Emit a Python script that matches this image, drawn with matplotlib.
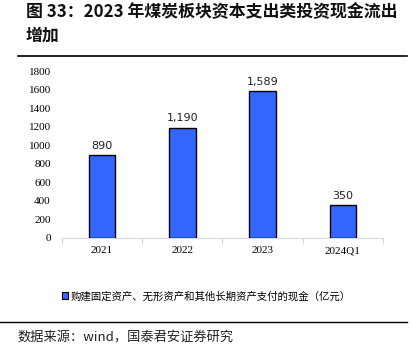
import matplotlib

matplotlib.use("Agg")
import matplotlib.pyplot as plt
from matplotlib.lines import Line2D
from matplotlib.patches import Patch

plt.rcParams["font.family"] = ["Noto Sans CJK SC", "DejaVu Sans"]

# data
categories = ["2021", "2022", "2023", "2024Q1"]
values = [890, 1190, 1589, 350]
yticks = [0, 200, 400, 600, 800, 1000, 1200, 1400, 1600, 1800]
title = "图 33：2023 年煤炭板块资本支出类投资现金流出\n增加"
legend_label = "购建固定资产、无形资产和其他长期资产支付的现金（亿元）"
source = "数据来源：wind，国泰君安证券研究"

BAR = "#3366ff"
SERIF = ["Liberation Serif", "Noto Sans CJK SC"]

fig = plt.figure(figsize=(4.13, 3.54), dpi=100)
fig.patch.set_facecolor("white")

fig.text(0.062, 0.99, title, fontsize=12.2, fontweight="bold", va="top",
         ha="left", linespacing=1.4, color="#111111")
fig.add_artist(Line2D([0.044, 0.985], [0.842, 0.842], color="black", lw=1.2))
fig.add_artist(Line2D([0.0, 0.985], [0.09, 0.09], color="black", lw=1.0))
fig.text(0.042, 0.045, source, fontsize=9.5, va="center", ha="left", color="#222222")

ax = fig.add_axes([0.150, 0.328, 0.777, 0.471])
pos = list(range(len(categories)))
ax.bar(pos, values, width=0.33, color=BAR, edgecolor="black", linewidth=1.0, zorder=3)
for i, v in zip(pos, values):
    ax.text(i, v + 45, f"{v:,}", ha="center", va="bottom", fontsize=8,
            family="DejaVu Sans", color="#222222")

ax.set_xlim(-0.5, len(categories) - 0.5)
ax.set_ylim(0, 1800)
ax.set_yticks(yticks)
ax.set_yticklabels([str(t) for t in yticks], family=SERIF, fontsize=8)
ax.set_xticks(pos)
ax.set_xticklabels(categories, family=SERIF, fontsize=8)
ax.set_xticks([p - 0.5 for p in pos] + [len(pos) - 0.5], minor=True)
ax.tick_params(axis="x", which="major", length=0, pad=6)
ax.tick_params(axis="x", which="minor", length=4, color="#d9d9d9", width=0.8)
ax.tick_params(axis="y", length=0, pad=8)
for side in ("top", "right", "left"):
    ax.spines[side].set_visible(False)
ax.spines["bottom"].set_color("#d9d9d9")
ax.spines["bottom"].set_linewidth(0.8)

handle = Patch(facecolor=BAR, edgecolor="black", linewidth=0.8)
fig.legend([handle], [legend_label], loc="center left", bbox_to_anchor=(0.138, 0.163),
           frameon=False, fontsize=7.5, handlelength=0.6, handleheight=0.6,
           handletextpad=0.2, borderpad=0)

fig.savefig("out.png", dpi=100, facecolor="white")
